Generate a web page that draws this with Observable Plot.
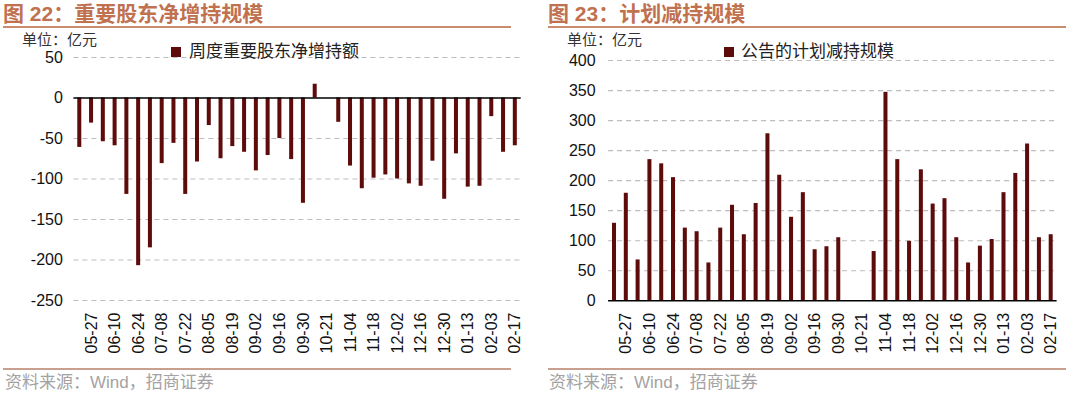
<!DOCTYPE html>
<html><head><meta charset="utf-8">
<script src="https://cdn.jsdelivr.net/npm/d3@7"></script>
<script src="https://cdn.jsdelivr.net/npm/@observablehq/plot@0.6"></script>
<style>
html,body{margin:0;padding:0;}
body{width:1066px;height:397px;background:#fff;position:relative;overflow:hidden;font-family:"Liberation Sans","Noto Sans CJK SC",sans-serif;}
.abs{position:absolute;white-space:nowrap;}
.title{font-family:"Liberation Sans","Noto Sans CJK SC",sans-serif;font-size:21px;font-weight:bold;color:#c0714f;top:1px;line-height:26px;}
.rule{position:absolute;height:2px;}
.unit{font-size:15px;color:#333;line-height:15px;top:32px;}
.leg{font-size:17px;color:#222;line-height:20px;top:42px;}
.sq{position:absolute;width:10px;height:10px;background:#5e0b0b;top:47px;}
.src{font-size:17px;color:#a3a3a3;line-height:20px;top:373px;}
.chart{position:absolute;top:40px;}
</style></head>
<body>
<div class="abs title" style="left:3px">图 22：重要股东净增持规模</div>
<div class="abs title" style="left:548px">图 23：计划减持规模</div>
<div class="rule" style="left:3px;width:508px;top:26px;background:#c98c6c"></div>
<div class="rule" style="left:548px;width:518px;top:26px;background:#c98c6c"></div>
<div class="rule" style="left:3px;width:508px;top:368px;background:#c9a08f"></div>
<div class="rule" style="left:548px;width:518px;top:368px;background:#c9a08f"></div>
<div class="abs src" style="left:5px">资料来源：Wind，招商证券</div>
<div class="abs src" style="left:549px">资料来源：Wind，招商证券</div>
<div id="left" class="chart" style="left:0px"></div>
<div id="right" class="chart" style="left:540px"></div>
<div class="abs unit" style="left:22px">单位：亿元</div>
<div class="abs unit" style="left:567px">单位：亿元</div>
<div class="sq" style="left:171px"></div>
<div class="abs leg" style="left:189px">周度重要股东净增持额</div>
<div class="sq" style="left:724px"></div>
<div class="abs leg" style="left:741px">公告的计划减持规模</div>
<script>
const weeks = ["05-20","05-27","06-03","06-10","06-17","06-24","07-01","07-08","07-15","07-22",
  "07-29","08-05","08-12","08-19","08-26","09-02","09-09","09-16","09-23","09-30",
  "10-14","10-21","10-28","11-04","11-11","11-18","11-25","12-02","12-09","12-16",
  "12-23","12-30","01-06","01-13","01-20","02-03","02-10","02-17"];
const tickLabels = ["05-27","06-10","06-24","07-08","07-22","08-05","08-19","09-02","09-16","09-30",
  "10-21","11-04","11-18","12-02","12-16","12-30","01-13","02-03","02-17"];
const netIncrease = [-61,-31,-54,-59,-119,-207,-185,-81,-56,-119,
  -79,-34,-75,-60,-67,-90,-71,-50,-76,-130,
  17,null,-30,-84,-112,-99,-95,-100,-106,-109,
  -78,-125,-69,-110,-109,-23,-67,-59];
const plannedReduction = [129,179,68,235,228,205,121,115,63,121,
  159,110,162,278,209,139,180,85,90,105,
  null,null,82,347,235,99,218,161,170,105,
  63,91,102,180,212,261,105,110];
const leftTicks = [50,0,-50,-100,-150,-200,-250];
const rightTicks = [0,50,100,150,200,250,300,350,400];

const barColor = "#5e0b0b";
const leftData = weeks.map((w,i)=>({week:w, value:netIncrease[i]}));
const rightData = weeks.map((w,i)=>({week:w, value:plannedReduction[i]}));
const style = {fontFamily:"'Liberation Sans', Arial, sans-serif", fontSize:"16px", color:"#111", background:"transparent", overflow:"visible"};
const fmt = d => String(d);

const left = Plot.plot({
  width:530, height:310,
  marginTop:17, marginBottom:50, marginLeft:73.4, marginRight:9.3,
  style,
  x:{type:"band", domain:weeks, paddingInner:0.66, paddingOuter:0.33, round:false},
  y:{domain:[-250,50]},
  marks:[
    Plot.gridY(leftTicks.filter(d=>d!==0), {stroke:"#bdbdbd", strokeOpacity:1, strokeWidth:1.2, strokeDasharray:"5,4"}),
    Plot.barY(leftData.filter(d=>d.value!=null), {x:"week", y:"value", fill:barColor}),
    Plot.ruleY([0], {stroke:"#000", strokeWidth:1.5}),
    Plot.axisY({ticks:leftTicks, tickSize:0, tickPadding:11, tickFormat:fmt, label:null, fontSize:16}),
    Plot.axisX({ticks:tickLabels, tickSize:0, tickPadding:12, tickRotate:-90, label:null, fontSize:16})
  ]
});
document.getElementById("left").appendChild(left);

const right = Plot.plot({
  width:526, height:310,
  marginTop:20, marginBottom:49.7, marginLeft:68.1, marginRight:9.4,
  style,
  x:{type:"band", domain:weeks, paddingInner:0.66, paddingOuter:0.33, round:false},
  y:{domain:[0,400]},
  marks:[
    Plot.gridY(rightTicks.filter(d=>d!==0), {stroke:"#bdbdbd", strokeOpacity:1, strokeWidth:1.2, strokeDasharray:"5,4"}),
    Plot.barY(rightData.filter(d=>d.value!=null), {x:"week", y:"value", fill:barColor}),
    Plot.ruleY([0], {stroke:"#000", strokeWidth:1.5}),
    Plot.axisY({ticks:rightTicks, tickSize:0, tickPadding:13, tickFormat:fmt, label:null, fontSize:16}),
    Plot.axisX({ticks:tickLabels, tickSize:0, tickPadding:12, tickRotate:-90, label:null, fontSize:16})
  ]
});
document.getElementById("right").appendChild(right);
</script>
</body></html>
